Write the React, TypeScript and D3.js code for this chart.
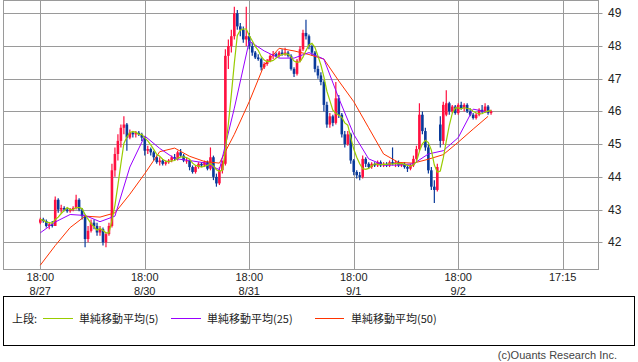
import React from "react";
import * as d3 from "d3";

// ---- data ----
// candle index 0 = 8/27 18:00 ; 35 candles per trading day
const opens = [
  42.6, 42.7, 42.65, 42.5, 42.55, 42.5, 43.3, 43.0, 43.05, 43.0,
  42.95, 43.0, 43.05, 43.3, 43.0, 42.8, 42.1, 42.35, 42.6, 42.5,
  42.3, 42.4, 42.0, 42.25, 42.5, 44.2, 44.7, 45.1, 45.5, 45.6,
  45.2, 45.35, 45.3, 45.35, 45.3, 45.2, 44.8, 44.85, 44.75, 44.6,
  44.45, 44.5, 44.4, 44.45, 44.5, 44.6, 44.55, 44.75, 44.65, 44.5,
  44.5, 44.3, 44.15, 44.3, 44.4, 44.35, 44.45, 44.25, 44.6, 44.0,
  43.8, 44.2, 44.4, 47.7, 48.0, 48.3, 49.0, 48.6, 48.5, 48.2,
  48.3, 48.0, 47.8, 47.65, 47.6, 47.35, 47.45, 47.55, 47.7, 47.75,
  47.7, 47.8, 47.75, 47.8, 47.7, 47.3, 47.15, 47.55, 47.9, 48.4,
  48.3, 48.0, 47.8, 47.3, 47.1, 46.9, 46.2, 45.6, 45.85, 45.65,
  46.4, 45.9, 45.3, 45.0, 45.3, 44.5, 44.15, 44.05, 44.0, 44.55,
  44.4, 44.3, 44.4, 44.35, 44.45, 44.35, 44.4, 44.35, 44.45, 44.4,
  44.45, 44.35, 44.4, 44.3, 44.25, 44.35, 44.55, 44.85, 45.9, 45.4,
  44.9, 44.2, 43.7, 43.6, 45.6, 45.1, 45.9, 46.25, 46.0, 46.15,
  45.95, 46.2, 46.1, 46.2, 46.0, 45.9, 45.8, 45.9, 46.05, 46.0,
  46.15, 45.95,
];
const highs = [
  42.75, 42.75, 42.7, 42.6, 42.65, 43.4, 43.35, 43.15, 43.1, 43.05,
  43.05, 43.1, 43.45, 43.35, 43.05, 42.85, 42.5, 42.7, 42.7, 42.6,
  42.5, 42.45, 42.3, 42.6, 44.4, 44.9, 45.3, 45.6, 45.85, 45.65,
  45.45, 45.4, 45.4, 45.4, 45.35, 45.25, 44.95, 44.9, 44.8, 44.65,
  44.6, 44.55, 44.5, 44.55, 44.65, 44.7, 44.8, 44.85, 44.7, 44.6,
  44.55, 44.35, 44.35, 44.45, 44.45, 44.5, 44.5, 44.9, 44.65, 44.1,
  44.3, 44.5, 47.9, 48.2, 48.5, 49.2, 49.1, 48.7, 48.6, 49.2,
  48.4, 48.1, 47.85, 47.75, 47.65, 47.5, 47.6, 47.75, 47.85, 47.8,
  47.85, 47.9, 47.95, 47.85, 47.75, 47.35, 47.6, 48.0, 48.5, 48.8,
  48.35, 48.05, 47.85, 47.4, 47.2, 46.95, 46.3, 45.95, 45.9, 46.9,
  46.5, 45.95, 45.4, 45.4, 45.35, 44.55, 44.2, 44.15, 44.65, 44.6,
  44.45, 44.45, 44.45, 44.5, 44.5, 44.45, 44.45, 44.5, 44.9, 44.5,
  44.5, 44.45, 44.45, 44.35, 44.4, 44.65, 44.95, 46.25, 46.0, 45.5,
  45.0, 44.3, 43.9, 44.4, 45.85, 46.3, 46.65, 46.3, 46.2, 46.2,
  46.25, 46.3, 46.25, 46.25, 46.1, 45.95, 45.95, 46.1, 46.2, 46.25,
  46.2, 46.05,
];
const lows = [
  42.55, 42.6, 42.45, 42.4, 42.45, 42.5, 42.9, 42.9, 42.95, 42.9,
  42.9, 42.95, 43.0, 42.95, 42.7, 41.85, 42.0, 42.3, 42.4, 42.2,
  42.2, 41.9, 41.85, 42.2, 42.45, 44.0, 44.5, 44.9, 45.3, 44.8,
  45.15, 45.2, 45.2, 45.25, 45.1, 44.65, 44.7, 44.65, 44.5, 44.4,
  44.35, 44.35, 44.35, 44.4, 44.45, 44.5, 44.5, 44.6, 44.45, 44.4,
  44.2, 44.1, 44.1, 44.25, 44.3, 44.3, 44.2, 44.2, 43.9, 43.7,
  43.75, 44.1, 44.35, 47.3, 47.8, 48.2, 48.5, 48.3, 48.1, 48.0,
  47.9, 47.7, 47.6, 47.55, 47.25, 47.3, 47.4, 47.5, 47.6, 47.65,
  47.65, 47.7, 47.7, 47.65, 47.25, 47.05, 47.1, 47.5, 47.85, 48.2,
  47.9, 47.7, 47.2, 47.0, 46.8, 46.0, 45.5, 45.5, 45.55, 45.6,
  45.8, 45.2, 44.9, 44.95, 44.4, 44.05, 43.95, 43.9, 43.95, 44.3,
  44.25, 44.25, 44.3, 44.3, 44.3, 44.3, 44.3, 44.3, 44.35, 44.3,
  44.3, 44.3, 44.25, 44.15, 44.2, 44.3, 44.5, 44.8, 45.3, 44.8,
  44.1, 43.6, 43.2, 43.55, 44.9, 45.0, 45.85, 45.9, 45.95, 45.9,
  45.9, 46.05, 46.0, 45.95, 45.85, 45.75, 45.75, 45.85, 45.95, 45.95,
  45.9, 45.9,
];
const closes = [
  42.7, 42.65, 42.5, 42.55, 42.5, 43.3, 43.0, 43.05, 43.0, 42.95,
  43.0, 43.05, 43.3, 43.0, 42.8, 42.1, 42.35, 42.6, 42.5, 42.3,
  42.4, 42.0, 42.25, 42.5, 44.2, 44.7, 45.1, 45.5, 45.6, 45.2,
  45.35, 45.3, 45.35, 45.3, 45.2, 44.8, 44.85, 44.75, 44.6, 44.45,
  44.5, 44.4, 44.45, 44.5, 44.6, 44.55, 44.75, 44.65, 44.5, 44.5,
  44.3, 44.15, 44.3, 44.4, 44.35, 44.45, 44.25, 44.6, 44.0, 43.8,
  44.2, 44.4, 47.7, 48.0, 48.3, 49.0, 48.6, 48.5, 48.2, 48.3,
  48.0, 47.8, 47.65, 47.6, 47.35, 47.45, 47.55, 47.7, 47.75, 47.7,
  47.8, 47.75, 47.8, 47.7, 47.3, 47.15, 47.55, 47.9, 48.4, 48.3,
  48.0, 47.8, 47.3, 47.1, 46.9, 46.2, 45.6, 45.85, 45.65, 46.4,
  45.9, 45.3, 45.0, 45.3, 44.5, 44.15, 44.05, 44.0, 44.55, 44.4,
  44.3, 44.4, 44.35, 44.45, 44.35, 44.4, 44.35, 44.45, 44.4, 44.45,
  44.35, 44.4, 44.3, 44.25, 44.35, 44.55, 44.85, 45.9, 45.4, 44.9,
  44.2, 43.7, 43.6, 44.3, 45.1, 46.2, 46.25, 46.0, 46.15, 45.95,
  46.2, 46.1, 46.2, 46.0, 45.9, 45.8, 45.9, 46.05, 46.0, 46.15,
  45.95, 46.0,
];

// moving averages (25) and (50), read every 5 candles (index 0,5,...,150)
const ma25Values = [
  42.29, 42.62, 42.85, 42.82, 42.63, 42.8, 44.3, 45.25, 44.87, 44.56,
  44.5, 44.43, 44.22, 46.1, 48.15, 47.85, 47.63, 47.63, 47.8, 47.6,
  46.4, 45.3, 44.55, 44.36, 44.36, 44.4, 44.7, 44.8, 45.2, 46.07,
  45.98,
];
const ma50Values = [
  41.3, 41.9, 42.45, 42.8, 42.77, 42.9, 43.47, 44.1, 44.77, 44.88,
  44.63, 44.47, 44.42, 45.3, 46.3, 47.42, 47.93, 47.85, 47.74, 47.6,
  46.93, 46.3, 45.5, 44.7, 44.44, 44.42, 44.54, 44.68, 45.06, 45.46,
  45.85,
];
const maStep = 5;

const yTicks = [42, 43, 44, 45, 46, 47, 48, 49];
const xTickIdx = [0, 35, 70, 105, 140, 175];
const xTickTime = ["18:00", "18:00", "18:00", "18:00", "18:00", "17:15"];
const xTickDate = ["8/27", "8/30", "8/31", "9/1", "9/2", ""];

const legendNames = ["単純移動平均(5)", "単純移動平均(25)", "単純移動平均(50)"];

const W = 638;
const H = 362;
const plotL = 3.5, plotR = 598.5, plotT = 0.5, plotB = 269.5;

const UP = "#ff1040";
const DOWN = "#0a3a9a";
const C5 = "#99cc00";
const C25 = "#9900ff";
const C50 = "#ff3300";
const GRID = "#9a9a9a";
const FONT = "'Noto Sans CJK JP', 'DejaVu Sans', sans-serif";
const NFONT = "'Liberation Sans', Arial, sans-serif";

export default function App() {
  const x = d3.scaleLinear().domain([0, 175]).range([40.3, 562.7]);
  const y = d3.scaleLinear().domain([42, 49]).range([242.3, 13.3]);

  const ma5 = closes.map((_, i) => {
    const s = closes.slice(Math.max(0, i - 4), i + 1);
    return d3.mean(s) as number;
  });

  const line = d3
    .line<[number, number]>()
    .x((d) => x(d[0]))
    .y((d) => y(d[1]));

  const ma5Path = line(ma5.map((v, i) => [i, v]));
  const ma25Path = line(
    ma25Values.map((v, k) => [Math.min(k * maStep, closes.length - 1), v])
  );
  const ma50Path = line(
    ma50Values.map((v, k) => [Math.min(k * maStep, closes.length - 1), v])
  );

  const bw = 2.6;

  return (
    <svg
      width={W}
      height={H}
      style={{ position: "absolute", left: 0, top: 0, background: "#fff" }}
    >
      <rect x={0} y={0} width={W} height={H} fill="#fff" />
      {/* grid */}
      {yTicks.map((t) => (
        <line
          key={"h" + t}
          x1={plotL}
          x2={plotR + 4}
          y1={Math.round(y(t)) + 0.5}
          y2={Math.round(y(t)) + 0.5}
          stroke={GRID}
          strokeWidth={1}
        />
      ))}
      {xTickIdx.map((t) => (
        <line
          key={"v" + t}
          x1={Math.round(x(t)) + 0.5}
          x2={Math.round(x(t)) + 0.5}
          y1={plotT}
          y2={plotB}
          stroke={GRID}
          strokeWidth={1}
        />
      ))}
      <rect
        x={plotL}
        y={plotT}
        width={plotR - plotL}
        height={plotB - plotT}
        fill="none"
        stroke={GRID}
        strokeWidth={1}
      />
      {/* candles */}
      {closes.map((c, i) => {
        const o = opens[i];
        const up = c >= o;
        const col = up ? UP : DOWN;
        const cx = x(i);
        const top = y(Math.max(o, c));
        const bot = y(Math.min(o, c));
        return (
          <g key={"c" + i}>
            <line
              x1={cx}
              x2={cx}
              y1={y(highs[i])}
              y2={y(lows[i])}
              stroke={col}
              strokeWidth={1.2}
            />
            <rect
              x={cx - bw / 2}
              y={top}
              width={bw}
              height={Math.max(1, bot - top)}
              fill={col}
            />
          </g>
        );
      })}
      {/* moving averages */}
      <path d={ma50Path || ""} fill="none" stroke={C50} strokeWidth={1} />
      <path d={ma25Path || ""} fill="none" stroke={C25} strokeWidth={1} />
      <path d={ma5Path || ""} fill="none" stroke={C5} strokeWidth={1.2} />
      {/* y labels */}
      {yTicks.map((t) => (
        <text
          key={"yl" + t}
          x={608}
          y={y(t)}
          dominantBaseline="central"
          fontSize={12}
          fontFamily={NFONT}
          fill="#222"
        >
          {t}
        </text>
      ))}
      {/* x labels */}
      {xTickIdx.map((t, k) => (
        <g key={"xl" + t}>
          <text
            x={x(t)}
            y={277}
            textAnchor="middle"
            dominantBaseline="central"
            fontSize={11}
            fontFamily={NFONT}
            fill="#222"
          >
            {xTickTime[k]}
          </text>
          <text
            x={x(t)}
            y={290.5}
            textAnchor="middle"
            dominantBaseline="central"
            fontSize={11}
            fontFamily={NFONT}
            fill="#222"
          >
            {xTickDate[k]}
          </text>
        </g>
      ))}
      {/* legend */}
      <rect x={3.5} y={296.5} width={631} height={49} fill="none" stroke="#000" strokeWidth={1} />
      <text x={12} y={318} dominantBaseline="central" fontSize={11} fontFamily={FONT} fill="#222">
        上段:
      </text>
      <line x1={43} x2={73} y1={318.5} y2={318.5} stroke={C5} strokeWidth={1} />
      <text x={79} y={318} dominantBaseline="central" fontSize={11} fontFamily={FONT} fill="#222">
        {legendNames[0]}
      </text>
      <line x1={171} x2={201} y1={318.5} y2={318.5} stroke={C25} strokeWidth={1} />
      <text x={207} y={318} dominantBaseline="central" fontSize={11} fontFamily={FONT} fill="#222">
        {legendNames[1]}
      </text>
      <line x1={315} x2={344} y1={318.5} y2={318.5} stroke={C50} strokeWidth={1} />
      <text x={351} y={318} dominantBaseline="central" fontSize={11} fontFamily={FONT} fill="#222">
        {legendNames[2]}
      </text>
      <text
        x={617}
        y={355}
        textAnchor="end"
        dominantBaseline="central"
        fontSize={11}
        fontFamily={NFONT}
        fill="#444"
      >
        (c)Ouants Research Inc.
      </text>
    </svg>
  );
}
